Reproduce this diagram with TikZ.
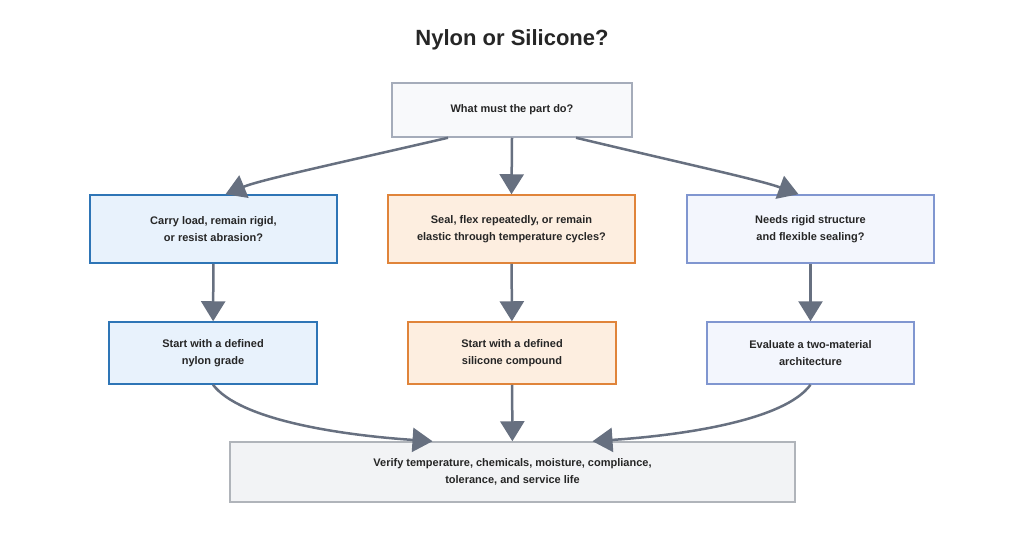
\documentclass[tikz,border=0pt]{standalone}
\usepackage{fontspec}
\setmainfont{Liberation Sans}
\usetikzlibrary{arrows.meta}
\definecolor{arr}{HTML}{677080}
\begin{document}
\begin{tikzpicture}[x=1pt,y=-1pt,
 box/.style={draw,line width=1.5pt,font=\bfseries\fontsize{11}{17}\selectfont,align=center,text=black!85},
 gray/.style={box,fill={HTML}{F8F9FB}},
 a/.style={draw=arr,line width=2.5pt,-{Triangle[length=20pt,width=24pt]}}]
\definecolor{c1}{HTML}{F8F9FB}
\useasboundingbox[fill=white] (0,0) rectangle (1024,538);
\node[font=\bfseries\fontsize{22}{26}\selectfont,text=black!85] (t) at (512,40) {Nylon or Silicone?};
\node[box,draw={rgb,255:red,165;green,172;blue,186},fill={rgb,255:red,248;green,249;blue,251},minimum width=240pt,minimum height=54pt] (q) at (512,110) {What must the part do?};
\node[box,draw={rgb,255:red,46;green,117;blue,182},fill={rgb,255:red,232;green,242;blue,252},minimum width=247pt,minimum height=68pt] (l1) at (213.5,229) {Carry load, remain rigid,\\or resist abrasion?};
\node[box,draw={rgb,255:red,224;green,132;blue,58},fill={rgb,255:red,253;green,238;blue,224},minimum width=247pt,minimum height=68pt] (m1) at (511.5,229) {Seal, flex repeatedly, or remain\\elastic through temperature cycles?};
\node[box,draw={rgb,255:red,128;green,150;blue,208},fill={rgb,255:red,243;green,246;blue,253},minimum width=247pt,minimum height=68pt] (r1) at (810.5,229) {Needs rigid structure\\and flexible sealing?};
\node[box,draw={rgb,255:red,46;green,117;blue,182},fill={rgb,255:red,232;green,242;blue,252},minimum width=208pt,minimum height=62pt] (l2) at (213,353) {Start with a defined\\nylon grade};
\node[box,draw={rgb,255:red,224;green,132;blue,58},fill={rgb,255:red,253;green,238;blue,224},minimum width=208pt,minimum height=62pt] (m2) at (512,353) {Start with a defined\\silicone compound};
\node[box,draw={rgb,255:red,128;green,150;blue,208},fill={rgb,255:red,243;green,246;blue,253},minimum width=207pt,minimum height=62pt] (r2) at (810.5,353) {Evaluate a two-material\\architecture};
\node[box,draw={rgb,255:red,176;green,180;blue,186},fill={rgb,255:red,242;green,243;blue,245},minimum width=565pt,minimum height=60pt] (b) at (512.5,472) {Verify temperature, chemicals, moisture, compliance,\\tolerance, and service life};
\draw[a] ([xshift=-64pt]q.south) .. controls (330,165) and (260,180) .. ([xshift=12pt]l1.north);
\draw[a] (q.south) -- (m1.north);
\draw[a] ([xshift=64pt]q.south) .. controls (690,165) and (760,180) .. ([xshift=-12pt]r1.north);
\draw[a] (l1) -- (l2);
\draw[a] (m1) -- (m2);
\draw[a] (r1) -- (r2);
\draw[a] (l2.south) .. controls (240,420) and (340,435) .. ([xshift=-80pt]b.north);
\draw[a] (m2) -- (b);
\draw[a] (r2.south) .. controls (785,420) and (685,435) .. ([xshift=80pt]b.north);
\end{tikzpicture}
\end{document}
